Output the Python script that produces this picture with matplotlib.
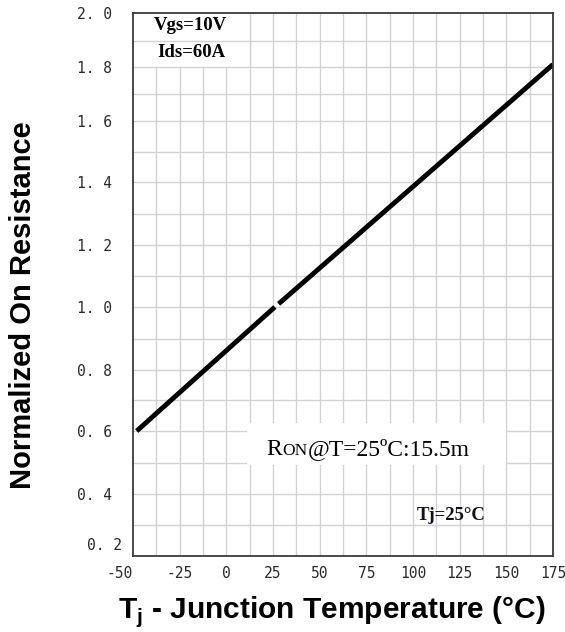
import numpy as np
import matplotlib
matplotlib.use("Agg")
import matplotlib.pyplot as plt
from matplotlib.patches import Rectangle
import matplotlib.transforms as mtransforms

# ---- data ----
temp_seg1 = [-48, 26]
res_seg1 = [0.60, 1.00]
temp_seg2 = [28, 175]
res_seg2 = [1.01, 1.81]

x_ticks = [-50, -25, 0, 25, 50, 75, 100, 125, 150, 175]
y_ticks = [0.4, 0.6, 0.8, 1.0, 1.2, 1.4, 1.6, 1.8, 2.0]
y_tick_labels = ["0. 4", "0. 6", "0. 8", "1. 0", "1. 2", "1. 4", "1. 6", "1. 8", "2. 0"]
x_grid = list(np.arange(-50, 175.1, 12.5))
y_grid = list(np.round(np.arange(0.2, 2.01, 0.1), 2))
# measured (non-uniform) gridline heights in the reference scan (px above the x-axis)
y_grid_px = [0, 31, 62, 93, 125, 156, 186, 217, 249, 280, 311, 342, 374, 404, 435, 462, 489, 515, 543]

vals = np.array([-10.0] + y_grid + [12.0])
slope_lo = (y_grid_px[1] - y_grid_px[0]) / 0.1
slope_hi = (y_grid_px[-1] - y_grid_px[-2]) / 0.1
pix = np.array([y_grid_px[0] - slope_lo * (0.2 + 10.0)] + y_grid_px +
               [y_grid_px[-1] + slope_hi * (12.0 - 2.0)], dtype=float)

def fwd(v):
    return np.interp(v, vals, pix)

def inv(p):
    return np.interp(p, pix, vals)

plt.rcParams["mathtext.fontset"] = "custom"
plt.rcParams["mathtext.rm"] = "Liberation Sans:bold"
plt.rcParams["mathtext.bf"] = "Liberation Sans:bold"

W, H = 565, 632
fig = plt.figure(figsize=(W / 100, H / 100), dpi=100)
ax = fig.add_axes([133 / W, 1 - 556 / H, (553 - 133) / W, (556 - 13) / H])
ax.set_yscale("function", functions=(fwd, inv))
ax.set_xlim(-50, 175)
ax.set_ylim(0.2, 2.0)

gridc = "#d2d2d2"
for xv in x_grid[1:-1]:
    ax.axvline(xv, color=gridc, lw=1.0, zorder=1)
for yv in y_grid[1:-1]:
    ax.axhline(yv, color=gridc, lw=1.0, zorder=3)

# white label boxes
ax.add_patch(Rectangle((-50, 1.8), 62.5, 0.2, facecolor="white", edgecolor="none", zorder=2))
ax.add_patch(Rectangle((11, 0.494), 139, 0.132, facecolor="white", edgecolor="none", zorder=4))
ax.add_patch(Rectangle((112.6, 0.2), 12.3, 0.2, facecolor="white", edgecolor="none", zorder=2))
ax.axvline(12.5, ymin=0.9, ymax=1.0, color=gridc, lw=1.0, zorder=2.5)

ax.plot(temp_seg1, res_seg1, color="black", lw=3.5, solid_capstyle="butt", zorder=5)
ax.plot(temp_seg2, res_seg2, color="black", lw=3.5, solid_capstyle="butt", zorder=5)

mono = "DejaVu Sans Mono"
tick_fs = 10.5
tick_col = "#2a2a2a"
ax.set_xticks(x_ticks)
ax.set_xticklabels([str(t) for t in x_ticks], fontfamily=mono, fontsize=tick_fs, color=tick_col)
ax.set_yticks(y_ticks)
ax.set_yticklabels(y_tick_labels, fontfamily=mono, fontsize=tick_fs, color=tick_col)
ax.tick_params(axis="both", length=0)
ax.tick_params(axis="y", pad=15)
ax.tick_params(axis="x", pad=7)
ax.get_xticklabels()[0].set_ha("right")
ax.set_yticks([], minor=True)
ax.set_xticks([], minor=True)
# 0.2 label sits slightly above/right in the reference
ax.text(-0.026, 0.2, "0. 2", transform=mtransforms.blended_transform_factory(ax.transAxes, ax.transData)
        + mtransforms.ScaledTranslation(0, 11 / 100, fig.dpi_scale_trans),
        ha="right", va="center", fontfamily=mono, fontsize=tick_fs, color=tick_col)

for s in ax.spines.values():
    s.set_color("#3a3a3a")
    s.set_linewidth(1.3)
    s.set_zorder(6)

serif = "Liberation Serif"
ax.text(-39, 1.955, "Vgs=10V", fontfamily=serif, fontweight="bold", fontsize=13.5,
        ha="left", va="center", zorder=7)
ax.text(-37, 1.855, "Ids=60A", fontfamily=serif, fontweight="bold", fontsize=13.5,
        ha="left", va="center", zorder=7)
ax.text(120.5, 0.33, "Tj=25°C", fontfamily=serif, fontweight="bold", fontsize=13.5,
        color="#10101a", ha="center", va="center", zorder=7)

# RON with small-caps "ON"
ron_y = 0.525
t1 = ax.text(21.5, ron_y, "R", fontfamily=serif, fontsize=17, ha="left", va="baseline", zorder=7)
t2 = ax.annotate("ON", xy=(1, ron_y), xycoords=(t1, "data"), fontfamily=serif, fontsize=12.5,
                 ha="left", va="baseline", zorder=7)
t3 = ax.annotate("@T=25ºC:15.5m", xy=(1, ron_y), xycoords=(t2, "data"), fontfamily=serif,
                 fontsize=17, ha="left", va="baseline", zorder=7)

fig.text(23 / W, 1 - 305 / H, "Normalized On Resistance", rotation=90, ha="center", va="center",
         fontfamily="Liberation Sans", fontweight="bold", fontsize=21)
fig.text(332 / W, 1 - 612 / H, r"T$_\mathrm{j}$ - Junction Temperature (°C)", ha="center", va="center",
         fontfamily="Liberation Sans", fontweight="bold", fontsize=21.5)

fig.savefig("out.png", dpi=100)
